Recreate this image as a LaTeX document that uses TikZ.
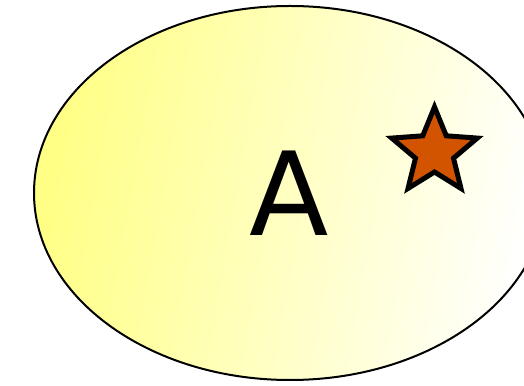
\documentclass[tikz,border=0pt]{standalone}
\usepackage{fontspec}
\setmainfont{DejaVu Sans}
\usetikzlibrary{shapes.geometric}

\definecolor{starfill}{RGB}{211,84,0}

\begin{document}
\begin{tikzpicture}[
  x=1pt,y=1pt,
  setbox/.style={ellipse,draw,line width=2pt,minimum width=512pt,minimum height=374pt,inner sep=0pt,
    left color=yellow!48,right color=white,shading angle=80},
  starmark/.style={star,star points=5,star point ratio=2.25,draw,line width=5pt,fill=starfill,
    minimum size=90pt,inner sep=0pt},
  setlabel/.style={font=\fontsize{116}{116}\selectfont,inner sep=0pt}
]
\useasboundingbox (0,0) rectangle (524,385);
\clip (0,0) rectangle (524,385);
\node[setbox] (setA) at (290,192) {};
\node[setlabel] (labelA) at (289.5,191.5) {A};
\node[starmark] (elem) at (434.5,233) {};
\end{tikzpicture}
\end{document}
